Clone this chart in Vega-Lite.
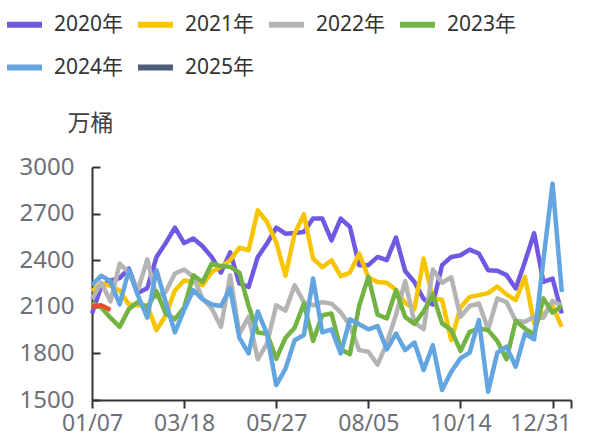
{
  "$schema": "https://vega.github.io/schema/vega-lite/v6.json",
  "autosize": "none",
  "width": 479,
  "height": 233,
  "padding": {"left": 92, "top": 167, "right": 27, "bottom": 37},
  "background": "white",
  "config": {
    "view": {"stroke": null},
    "font": "Noto Sans, Noto Sans CJK SC"
  },
  "data": {
    "values": [
      {"year":"2020年","week":0,"value":2057},{"year":"2020年","week":1,"value":2230},{"year":"2020年","week":2,"value":2270},{"year":"2020年","week":3,"value":2285},{"year":"2020年","week":4,"value":2345},{"year":"2020年","week":5,"value":2190},{"year":"2020年","week":6,"value":2220},{"year":"2020年","week":7,"value":2420},{"year":"2020年","week":8,"value":2510},{"year":"2020年","week":9,"value":2610},{"year":"2020年","week":10,"value":2510},{"year":"2020年","week":11,"value":2540},{"year":"2020年","week":12,"value":2490},{"year":"2020年","week":13,"value":2420},{"year":"2020年","week":14,"value":2320},{"year":"2020年","week":15,"value":2450},{"year":"2020年","week":16,"value":2250},{"year":"2020年","week":17,"value":2228},{"year":"2020年","week":18,"value":2421},{"year":"2020年","week":19,"value":2507},{"year":"2020年","week":20,"value":2610},{"year":"2020年","week":21,"value":2571},{"year":"2020年","week":22,"value":2575},{"year":"2020年","week":23,"value":2582},{"year":"2020年","week":24,"value":2668},{"year":"2020年","week":25,"value":2668},{"year":"2020年","week":26,"value":2528},{"year":"2020年","week":27,"value":2668},{"year":"2020年","week":28,"value":2614},{"year":"2020年","week":29,"value":2368},{"year":"2020年","week":30,"value":2368},{"year":"2020年","week":31,"value":2421},{"year":"2020年","week":32,"value":2400},{"year":"2020年","week":33,"value":2546},{"year":"2020年","week":34,"value":2330},{"year":"2020年","week":35,"value":2260},{"year":"2020年","week":36,"value":2150},{"year":"2020年","week":37,"value":2115},{"year":"2020年","week":38,"value":2368},{"year":"2020年","week":39,"value":2421},{"year":"2020年","week":40,"value":2432},{"year":"2020年","week":41,"value":2468},{"year":"2020年","week":42,"value":2443},{"year":"2020年","week":43,"value":2336},{"year":"2020年","week":44,"value":2332},{"year":"2020年","week":45,"value":2304},{"year":"2020年","week":46,"value":2218},{"year":"2020年","week":47,"value":2390},{"year":"2020年","week":48,"value":2574},{"year":"2020年","week":49,"value":2261},{"year":"2020年","week":50,"value":2282},{"year":"2020年","week":51,"value":2057},
      {"year":"2021年","week":0,"value":2200},{"year":"2021年","week":1,"value":2250},{"year":"2021年","week":2,"value":2235},{"year":"2021年","week":3,"value":2205},{"year":"2021年","week":4,"value":2115},{"year":"2021年","week":5,"value":2110},{"year":"2021年","week":6,"value":2110},{"year":"2021年","week":7,"value":1950},{"year":"2021年","week":8,"value":2045},{"year":"2021年","week":9,"value":2205},{"year":"2021年","week":10,"value":2270},{"year":"2021年","week":11,"value":2260},{"year":"2021年","week":12,"value":2239},{"year":"2021年","week":13,"value":2325},{"year":"2021年","week":14,"value":2357},{"year":"2021年","week":15,"value":2400},{"year":"2021年","week":16,"value":2480},{"year":"2021年","week":17,"value":2464},{"year":"2021年","week":18,"value":2721},{"year":"2021年","week":19,"value":2646},{"year":"2021年","week":20,"value":2515},{"year":"2021年","week":21,"value":2300},{"year":"2021年","week":22,"value":2570},{"year":"2021年","week":23,"value":2695},{"year":"2021年","week":24,"value":2410},{"year":"2021年","week":25,"value":2355},{"year":"2021年","week":26,"value":2400},{"year":"2021年","week":27,"value":2297},{"year":"2021年","week":28,"value":2320},{"year":"2021年","week":29,"value":2443},{"year":"2021年","week":30,"value":2290},{"year":"2021年","week":31,"value":2260},{"year":"2021年","week":32,"value":2255},{"year":"2021年","week":33,"value":2210},{"year":"2021年","week":34,"value":2125},{"year":"2021年","week":35,"value":2085},{"year":"2021年","week":36,"value":2410},{"year":"2021年","week":37,"value":2153},{"year":"2021年","week":38,"value":2145},{"year":"2021年","week":39,"value":1886},{"year":"2021年","week":40,"value":2095},{"year":"2021年","week":41,"value":2164},{"year":"2021年","week":42,"value":2175},{"year":"2021年","week":43,"value":2188},{"year":"2021年","week":44,"value":2230},{"year":"2021年","week":45,"value":2180},{"year":"2021年","week":46,"value":2143},{"year":"2021年","week":47,"value":2293},{"year":"2021年","week":48,"value":1993},{"year":"2021年","week":49,"value":2055},{"year":"2021年","week":50,"value":2105},{"year":"2021年","week":51,"value":1971},
      {"year":"2022年","week":0,"value":2150},{"year":"2022年","week":1,"value":2255},{"year":"2022年","week":2,"value":2135},{"year":"2022年","week":3,"value":2378},{"year":"2022年","week":4,"value":2320},{"year":"2022年","week":5,"value":2210},{"year":"2022年","week":6,"value":2405},{"year":"2022年","week":7,"value":2164},{"year":"2022年","week":8,"value":2195},{"year":"2022年","week":9,"value":2314},{"year":"2022年","week":10,"value":2340},{"year":"2022年","week":11,"value":2293},{"year":"2022年","week":12,"value":2153},{"year":"2022年","week":13,"value":2089},{"year":"2022年","week":14,"value":1971},{"year":"2022年","week":15,"value":2303},{"year":"2022年","week":16,"value":1925},{"year":"2022年","week":17,"value":2035},{"year":"2022年","week":18,"value":1762},{"year":"2022年","week":19,"value":1864},{"year":"2022年","week":20,"value":2110},{"year":"2022年","week":21,"value":2075},{"year":"2022年","week":22,"value":2239},{"year":"2022年","week":23,"value":2130},{"year":"2022年","week":24,"value":2110},{"year":"2022年","week":25,"value":2130},{"year":"2022年","week":26,"value":2120},{"year":"2022年","week":27,"value":2065},{"year":"2022年","week":28,"value":1980},{"year":"2022年","week":29,"value":1821},{"year":"2022年","week":30,"value":1811},{"year":"2022年","week":31,"value":1728},{"year":"2022年","week":32,"value":1865},{"year":"2022年","week":33,"value":2050},{"year":"2022年","week":34,"value":2265},{"year":"2022年","week":35,"value":2000},{"year":"2022年","week":36,"value":1955},{"year":"2022年","week":37,"value":2340},{"year":"2022年","week":38,"value":2255},{"year":"2022年","week":39,"value":2290},{"year":"2022年","week":40,"value":2035},{"year":"2022年","week":41,"value":2105},{"year":"2022年","week":42,"value":2121},{"year":"2022年","week":43,"value":1955},{"year":"2022年","week":44,"value":2154},{"year":"2022年","week":45,"value":2130},{"year":"2022年","week":46,"value":2010},{"year":"2022年","week":47,"value":2004},{"year":"2022年","week":48,"value":2036},{"year":"2022年","week":49,"value":2030},{"year":"2022年","week":50,"value":2138},{"year":"2022年","week":51,"value":2105},
      {"year":"2023年","week":0,"value":2125},{"year":"2023年","week":1,"value":2095},{"year":"2023年","week":2,"value":2030},{"year":"2023年","week":3,"value":1971},{"year":"2023年","week":4,"value":2085},{"year":"2023年","week":5,"value":2132},{"year":"2023年","week":6,"value":2095},{"year":"2023年","week":7,"value":2200},{"year":"2023年","week":8,"value":2057},{"year":"2023年","week":9,"value":2020},{"year":"2023年","week":10,"value":2095},{"year":"2023年","week":11,"value":2303},{"year":"2023年","week":12,"value":2260},{"year":"2023年","week":13,"value":2378},{"year":"2023年","week":14,"value":2362},{"year":"2023年","week":15,"value":2357},{"year":"2023年","week":16,"value":2320},{"year":"2023年","week":17,"value":2105},{"year":"2023年","week":18,"value":1935},{"year":"2023年","week":19,"value":1927},{"year":"2023年","week":20,"value":1765},{"year":"2023年","week":21,"value":1900},{"year":"2023年","week":22,"value":1965},{"year":"2023年","week":23,"value":2121},{"year":"2023年","week":24,"value":1880},{"year":"2023年","week":25,"value":2046},{"year":"2023年","week":26,"value":2057},{"year":"2023年","week":27,"value":1826},{"year":"2023年","week":28,"value":1795},{"year":"2023年","week":29,"value":2105},{"year":"2023年","week":30,"value":2293},{"year":"2023年","week":31,"value":2050},{"year":"2023年","week":32,"value":2025},{"year":"2023年","week":33,"value":2207},{"year":"2023年","week":34,"value":2035},{"year":"2023年","week":35,"value":1990},{"year":"2023年","week":36,"value":2070},{"year":"2023年","week":37,"value":2180},{"year":"2023年","week":38,"value":1993},{"year":"2023年","week":39,"value":1950},{"year":"2023年","week":40,"value":1816},{"year":"2023年","week":41,"value":1939},{"year":"2023年","week":42,"value":1960},{"year":"2023年","week":43,"value":1950},{"year":"2023年","week":44,"value":1880},{"year":"2023年","week":45,"value":1762},{"year":"2023年","week":46,"value":2010},{"year":"2023年","week":47,"value":1960},{"year":"2023年","week":48,"value":1922},{"year":"2023年","week":49,"value":2154},{"year":"2023年","week":50,"value":2062},{"year":"2023年","week":51,"value":2105},
      {"year":"2024年","week":0,"value":2240},{"year":"2024年","week":1,"value":2300},{"year":"2024年","week":2,"value":2265},{"year":"2024年","week":3,"value":2115},{"year":"2024年","week":4,"value":2335},{"year":"2024年","week":5,"value":2170},{"year":"2024年","week":6,"value":2030},{"year":"2024年","week":7,"value":2336},{"year":"2024年","week":8,"value":2130},{"year":"2024年","week":9,"value":1935},{"year":"2024年","week":10,"value":2080},{"year":"2024年","week":11,"value":2207},{"year":"2024年","week":12,"value":2148},{"year":"2024年","week":13,"value":2115},{"year":"2024年","week":14,"value":2105},{"year":"2024年","week":15,"value":2218},{"year":"2024年","week":16,"value":1900},{"year":"2024年","week":17,"value":1800},{"year":"2024年","week":18,"value":2070},{"year":"2024年","week":19,"value":1925},{"year":"2024年","week":20,"value":1596},{"year":"2024年","week":21,"value":1700},{"year":"2024年","week":22,"value":1885},{"year":"2024年","week":23,"value":1918},{"year":"2024年","week":24,"value":2282},{"year":"2024年","week":25,"value":1935},{"year":"2024年","week":26,"value":1955},{"year":"2024年","week":27,"value":1800},{"year":"2024年","week":28,"value":2020},{"year":"2024年","week":29,"value":1988},{"year":"2024年","week":30,"value":1955},{"year":"2024年","week":31,"value":1976},{"year":"2024年","week":32,"value":1826},{"year":"2024年","week":33,"value":1928},{"year":"2024年","week":34,"value":1821},{"year":"2024年","week":35,"value":1870},{"year":"2024年","week":36,"value":1693},{"year":"2024年","week":37,"value":1853},{"year":"2024年","week":38,"value":1564},{"year":"2024年","week":39,"value":1682},{"year":"2024年","week":40,"value":1768},{"year":"2024年","week":41,"value":1805},{"year":"2024年","week":42,"value":2014},{"year":"2024年","week":43,"value":1553},{"year":"2024年","week":44,"value":1805},{"year":"2024年","week":45,"value":1843},{"year":"2024年","week":46,"value":1714},{"year":"2024年","week":47,"value":1928},{"year":"2024年","week":48,"value":1890},{"year":"2024年","week":49,"value":2400},{"year":"2024年","week":50,"value":2893},{"year":"2024年","week":51,"value":2196},
      {"year":"2025年","week":0,"value":2100},{"year":"2025年","week":1,"value":2110},{"year":"2025年","week":2,"value":2080}
    ]
  },
  "encoding": {
    "x": {
      "field": "week",
      "type": "quantitative",
      "scale": {"domain": [0, 52], "nice": false, "zero": false},
      "axis": {
        "title": null,
        "grid": false,
        "values": [0, 10, 20, 30, 40, 50, 52],
        "labelExpr": "datum.value == 0 ? '01/07' : datum.value == 10 ? '03/18' : datum.value == 20 ? '05/27' : datum.value == 30 ? '08/05' : datum.value == 40 ? '10/14' : datum.value == 52 ? '12/31' : ''",
        "labelAlign": {"condition": {"test": "datum.value == 52", "value": "right"}, "value": "center"},
        "labelFontSize": 23,
        "labelColor": "#6E7079",
        "labelPadding": 4,
        "labelOverlap": false,
        "labelBound": false,
        "labelFlush": false,
        "domainColor": "#333333",
        "domainWidth": 2,
        "tickColor": "#333333",
        "tickWidth": 2,
        "tickSize": 8
      }
    },
    "y": {
      "field": "value",
      "type": "quantitative",
      "scale": {"domain": [1500, 3000], "nice": false, "zero": false},
      "axis": {
        "title": "万桶",
        "titleAngle": 0,
        "titleAlign": "center",
        "titleBaseline": "middle",
        "titleX": -2,
        "titleY": -44,
        "titleFontSize": 23,
        "titleFontWeight": "normal",
        "titleColor": "#404040",
        "grid": false,
        "format": "d",
        "values": [1500, 1800, 2100, 2400, 2700, 3000],
        "labelFontSize": 24,
        "labelColor": "#6E7079",
        "labelPadding": 26,
        "labelOverlap": false,
        "labelFlush": false,
        "domainColor": "#333333",
        "domainWidth": 2,
        "tickColor": "#333333",
        "tickWidth": 2,
        "tickSize": -8
      }
    }
  },
  "layer": [
    {
      "transform": [{"filter": "datum.year != '2025年'"}],
      "mark": {"type": "line", "strokeWidth": 4.5, "strokeJoin": "round"},
      "encoding": {
        "color": {
          "field": "year",
          "type": "nominal",
          "scale": {
            "domain": ["2020年", "2021年", "2022年", "2023年", "2024年", "2025年"],
            "range": ["#7158E2", "#F6C500", "#B4B4B4", "#72B343", "#62A5E0", "#4E5D78"]
          },
          "legend": {
            "orient": "none",
            "legendX": -88,
            "legendY": -163,
            "direction": "horizontal",
            "columns": 4,
            "title": null,
            "padding": 0,
            "labelFontSize": 21,
            "labelColor": "#333333",
            "labelOffset": 9,
            "symbolType": "stroke",
            "symbolSize": 1225,
            "symbolStrokeWidth": 6,
            "columnPadding": 2,
            "rowPadding": 10
          }
        }
      }
    },
    {
      "transform": [{"filter": "datum.year == '2025年'"}],
      "mark": {"type": "line", "strokeWidth": 4.5, "strokeJoin": "round", "color": "#EE4A2C"},
      "encoding": {}
    }
  ]
}
